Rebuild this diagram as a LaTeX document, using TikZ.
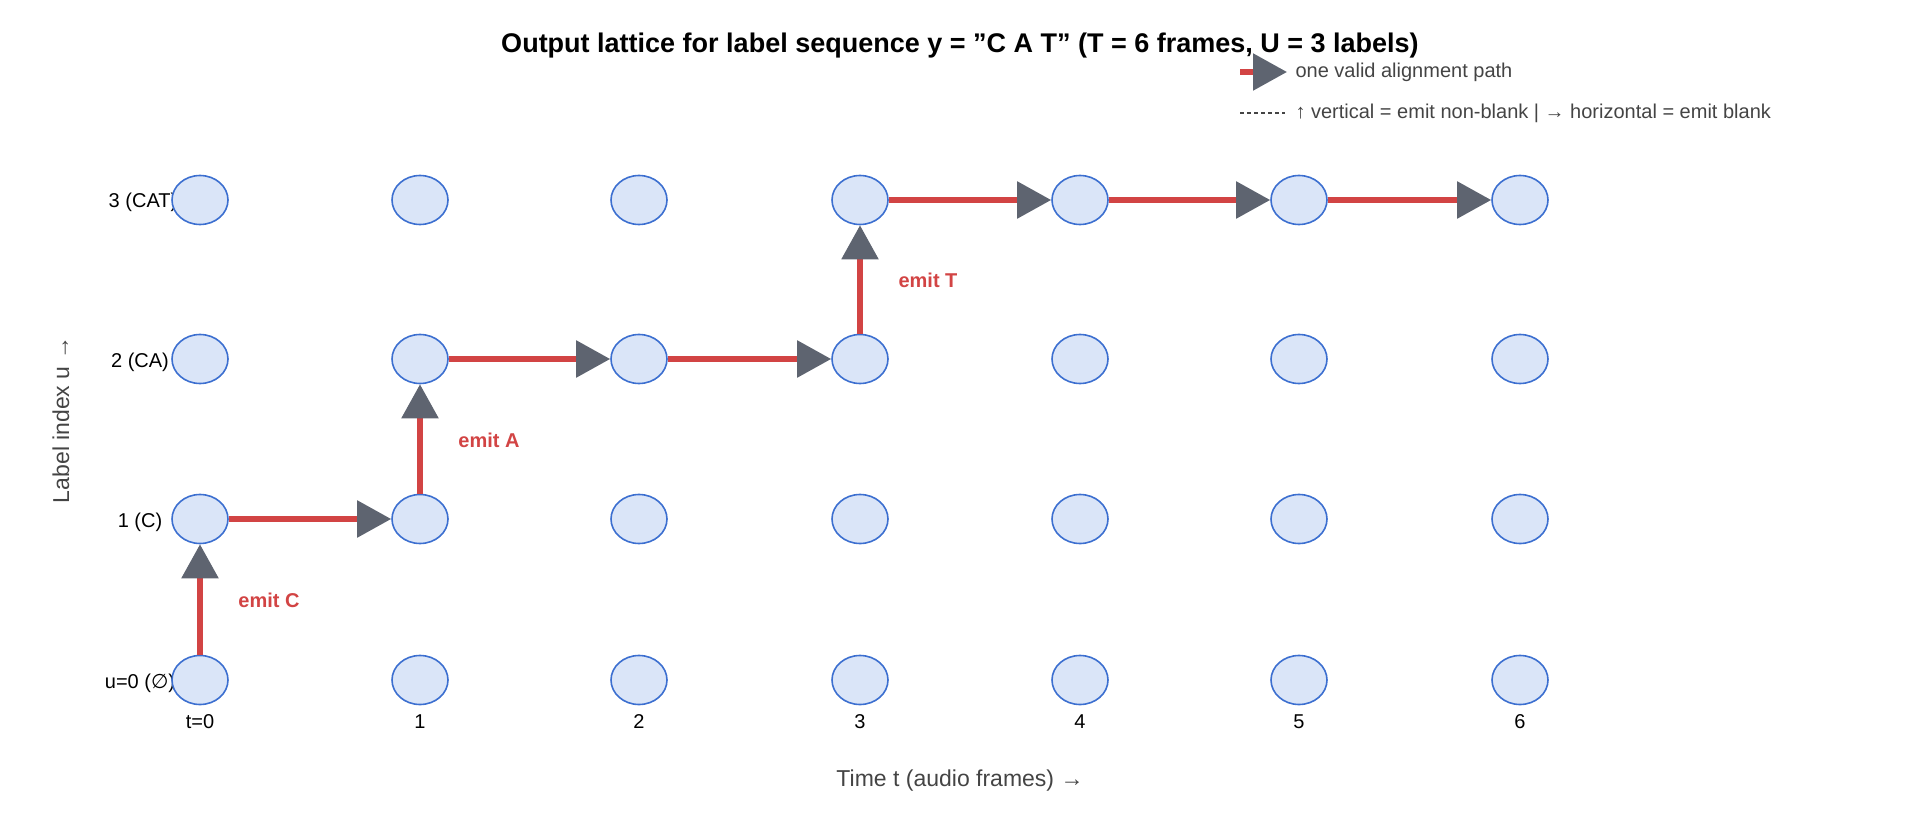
\documentclass[tikz,border=0pt]{standalone}
\usepackage{fontspec}
\setmainfont{Liberation Sans}
\newfontfamily\dvs{DejaVu Sans}
\usetikzlibrary{arrows.meta}
\definecolor{nodefill}{HTML}{DAE5F8}
\definecolor{nodedraw}{HTML}{3C6FD0}
\definecolor{pathred}{HTML}{D24444}
\definecolor{tipgray}{HTML}{5E6470}
\definecolor{txtgray}{HTML}{444444}
\tikzset{
  lat/.style={ellipse,draw=nodedraw,fill=nodefill,line width=1.6pt,minimum width=56pt,minimum height=49pt,inner sep=0pt},
  pathseg/.style={draw=pathred,line width=5.5pt,-{Triangle[length=34pt,width=36pt,color=tipgray]}},
  rowlab/.style={font=\fontsize{20}{24}\selectfont,anchor=center},
  collab/.style={font=\fontsize{20}{24}\selectfont},
  emitlab/.style={font=\fontsize{20}{24}\selectfont\bfseries,text=pathred},
}
\usetikzlibrary{shapes.geometric}
\begin{document}
\begin{tikzpicture}[x=1pt,y=-1pt]
\useasboundingbox (0,0) rectangle (1920,840);
\node[font=\fontsize{27}{32}\selectfont\bfseries] (title) at (960,46) {Output lattice for label sequence y = "C A T" (T = 6 frames, U = 3 labels)};
% row labels (under circles)
\node[rowlab] (r0) at (140,683) {u=0 ({\dvs ∅})};
\node[rowlab] (r1) at (140,522) {1 (C)};
\node[rowlab] (r2) at (140,362) {2 (CA)};
\node[rowlab] (r3) at (143,202) {3 (CAT)};
% lattice
\foreach \t/\x in {0/200,1/420,2/639,3/860,4/1080,5/1299,6/1520}{
  \foreach \u/\y in {0/680,1/519,2/359,3/200}{
    \node[lat] (n\t\u) at (\x,\y) {};
  }
}
\foreach \t/\x/\l in {0/200/t=0,1/420/1,2/639/2,3/860/3,4/1080/4,5/1299/5,6/1520/6}{
  \node[collab] (c\t) at (\x,722) {\l};
}
% path
\draw[pathseg] (n00.north) -- (n01.south);
\draw[pathseg] (n01.east) -- (n11.west);
\draw[pathseg] (n11.north) -- (n12.south);
\draw[pathseg] (n12.east) -- (n22.west);
\draw[pathseg] (n22.east) -- (n32.west);
\draw[pathseg] (n32.north) -- (n33.south);
\draw[pathseg] (n33.east) -- (n43.west);
\draw[pathseg] (n43.east) -- (n53.west);
\draw[pathseg] (n53.east) -- (n63.west);
\node[emitlab] (ec) at (269,600) {emit C};
\node[emitlab] (ea) at (489,440) {emit A};
\node[emitlab] (et) at (928,280) {emit T};
% axes labels
\node[font=\fontsize{23}{28}\selectfont,text=txtgray] (xl) at (960,781) {Time t (audio frames) →};
\node[font=\fontsize{23}{28}\selectfont,text=txtgray,rotate=90] (yl) at (61,420) {Label index u →};
% legend
\coordinate (la) at (1240,72);
\coordinate (lb) at (1287,72);
\draw[pathseg] (la) -- (lb);
\node[font=\fontsize{20}{24}\selectfont,text=txtgray,anchor=west] (lt1) at (1292,72) {one valid alignment path};
\coordinate (lc) at (1240,113);
\coordinate (ld) at (1285,113);
\draw[txtgray,line width=1.2pt,dash pattern=on 4pt off 3pt] (lc) -- (ld);
\node[font=\fontsize{20}{24}\selectfont,text=txtgray,anchor=west] (lt2) at (1292,113) {↑ vertical = emit non-blank | → horizontal = emit blank};
\end{tikzpicture}
\end{document}
